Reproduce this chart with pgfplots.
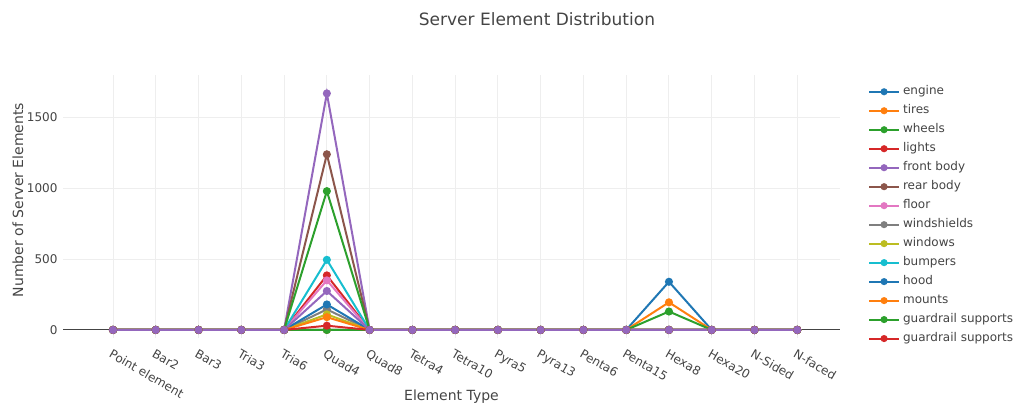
\documentclass[border=0pt]{standalone}
\usepackage{pgfplots}
\usepackage{pgfplotstable}
\pgfplotsset{compat=1.18}
\usepackage{fontspec}
\setmainfont{DejaVu Sans}
\definecolor{c0}{HTML}{1F77B4}
\definecolor{c1}{HTML}{FF7F0E}
\definecolor{c2}{HTML}{2CA02C}
\definecolor{c3}{HTML}{D62728}
\definecolor{c4}{HTML}{9467BD}
\definecolor{c5}{HTML}{8C564B}
\definecolor{c6}{HTML}{E377C2}
\definecolor{c7}{HTML}{7F7F7F}
\definecolor{c8}{HTML}{BCBD22}
\definecolor{c9}{HTML}{17BECF}
\definecolor{txt}{HTML}{444444}
\definecolor{gridc}{HTML}{EEEEEE}
\pgfplotstableread{
x  engine tires wheels lights front rear floor wind windows bumpers hood mounts grA grB extra
0  0 0 0 0 0 0 0 0 0 0 0 0 0 0 0
1  0 0 0 0 0 0 0 0 0 0 0 0 0 0 0
2  0 0 0 0 0 0 0 0 0 0 0 0 0 0 0
3  0 0 0 0 0 0 0 0 0 0 0 0 0 0 0
4  0 0 0 0 0 0 0 0 0 0 0 0 0 0 0
5  0 0 0 385 1670 1240 350 145 110 495 180 90 980 30 275
6  0 0 0 0 0 0 0 0 0 0 0 0 0 0 0
7  0 0 0 0 0 0 0 0 0 0 0 0 0 0 0
8  0 0 0 0 0 0 0 0 0 0 0 0 0 0 0
9  0 0 0 0 0 0 0 0 0 0 0 0 0 0 0
10 0 0 0 0 0 0 0 0 0 0 0 0 0 0 0
11 0 0 0 0 0 0 0 0 0 0 0 0 0 0 0
12 0 0 0 0 0 0 0 0 0 0 0 0 0 0 0
13 340 195 130 0 0 0 0 0 0 0 0 0 0 0 0
14 0 0 0 0 0 0 0 0 0 0 0 0 0 0 0
15 0 0 0 0 0 0 0 0 0 0 0 0 0 0 0
16 0 0 0 0 0 0 0 0 0 0 0 0 0 0 0
}\data
\begin{document}
\begin{tikzpicture}[x=1bp,y=1bp]
\useasboundingbox (0,0) rectangle (1014,413);
\begin{axis}[
  at={(63bp,75bp)}, anchor=south west,
  scale only axis, width=777bp, height=263bp,
  xmin=-1.17, xmax=17.0, ymin=-57, ymax=1800,
  axis line style={draw=none},
  major tick length=0pt,
  xtick={0,...,16},
  xticklabels={Point element,Bar2,Bar3,Tria3,Tria6,Quad4,Quad8,Tetra4,Tetra10,Pyra5,Pyra13,Penta6,Penta15,Hexa8,Hexa20,N-Sided,N-faced},
  xticklabel style={rotate=-30, anchor=north west, xshift=2bp, yshift=-6bp},
  ytick={0,500,1000,1500},
  yticklabel style={xshift=-2bp},
  grid=major,
  grid style={gridc, line width=1bp},
  tick label style={font=\fontsize{12bp}{14bp}\selectfont, text=txt},
  /pgf/number format/assume math mode=true,
  /pgf/number format/1000 sep={},
  xlabel={Element Type},
  ylabel={Number of Server Elements},
  label style={font=\fontsize{14bp}{16bp}\selectfont, text=txt},
  xlabel style={at={(axis description cs:0.5,-0.224)}, anchor=center},
  ylabel style={at={(axis description cs:-0.058,0.525)}, anchor=center},
  title={Server Element Distribution},
  title style={at={(axis description cs:0.61,1.19)}, anchor=center, font=\fontsize{17bp}{20bp}\selectfont, text=txt},
  every axis plot/.append style={line width=2bp, mark=*, mark size=3bp},
  legend style={at={(axis description cs:1.032,0.975)}, anchor=north west, draw=none,
    font=\fontsize{12bp}{14bp}\selectfont, text=txt,
    row sep=3bp,
    nodes={text height=9bp, text depth=3bp, inner xsep=3bp}},
  legend cell align=left,
  legend image code/.code={\draw[#1, mark=none] (0bp,0bp) -- (30bp,0bp);
    \draw[#1, only marks, mark size=2.5bp] plot coordinates {(15bp,0bp)};},
]
\addplot[txt, line width=1bp, mark=none, forget plot] coordinates {(-1.17,0) (17,0)};
\addplot[c0] table[x=x,y=engine]{\data}; \addlegendentry{engine}
\addplot[c1] table[x=x,y=tires]{\data}; \addlegendentry{tires}
\addplot[c2] table[x=x,y=wheels]{\data}; \addlegendentry{wheels}
\addplot[c3] table[x=x,y=lights]{\data}; \addlegendentry{lights}
\addplot[c4] table[x=x,y=front]{\data}; \addlegendentry{front body}
\addplot[c5] table[x=x,y=rear]{\data}; \addlegendentry{rear body}
\addplot[c6] table[x=x,y=floor]{\data}; \addlegendentry{floor}
\addplot[c7] table[x=x,y=wind]{\data}; \addlegendentry{windshields}
\addplot[c8] table[x=x,y=windows]{\data}; \addlegendentry{windows}
\addplot[c9] table[x=x,y=bumpers]{\data}; \addlegendentry{bumpers}
\addplot[c0] table[x=x,y=hood]{\data}; \addlegendentry{hood}
\addplot[c1] table[x=x,y=mounts]{\data}; \addlegendentry{mounts}
\addplot[c2] table[x=x,y=grA]{\data}; \addlegendentry{guardrail supports}
\addplot[c3] table[x=x,y=grB]{\data}; \addlegendentry{guardrail supports}
\addplot[c4, forget plot] table[x=x,y=extra]{\data};
\end{axis}
\end{tikzpicture}
\end{document}
